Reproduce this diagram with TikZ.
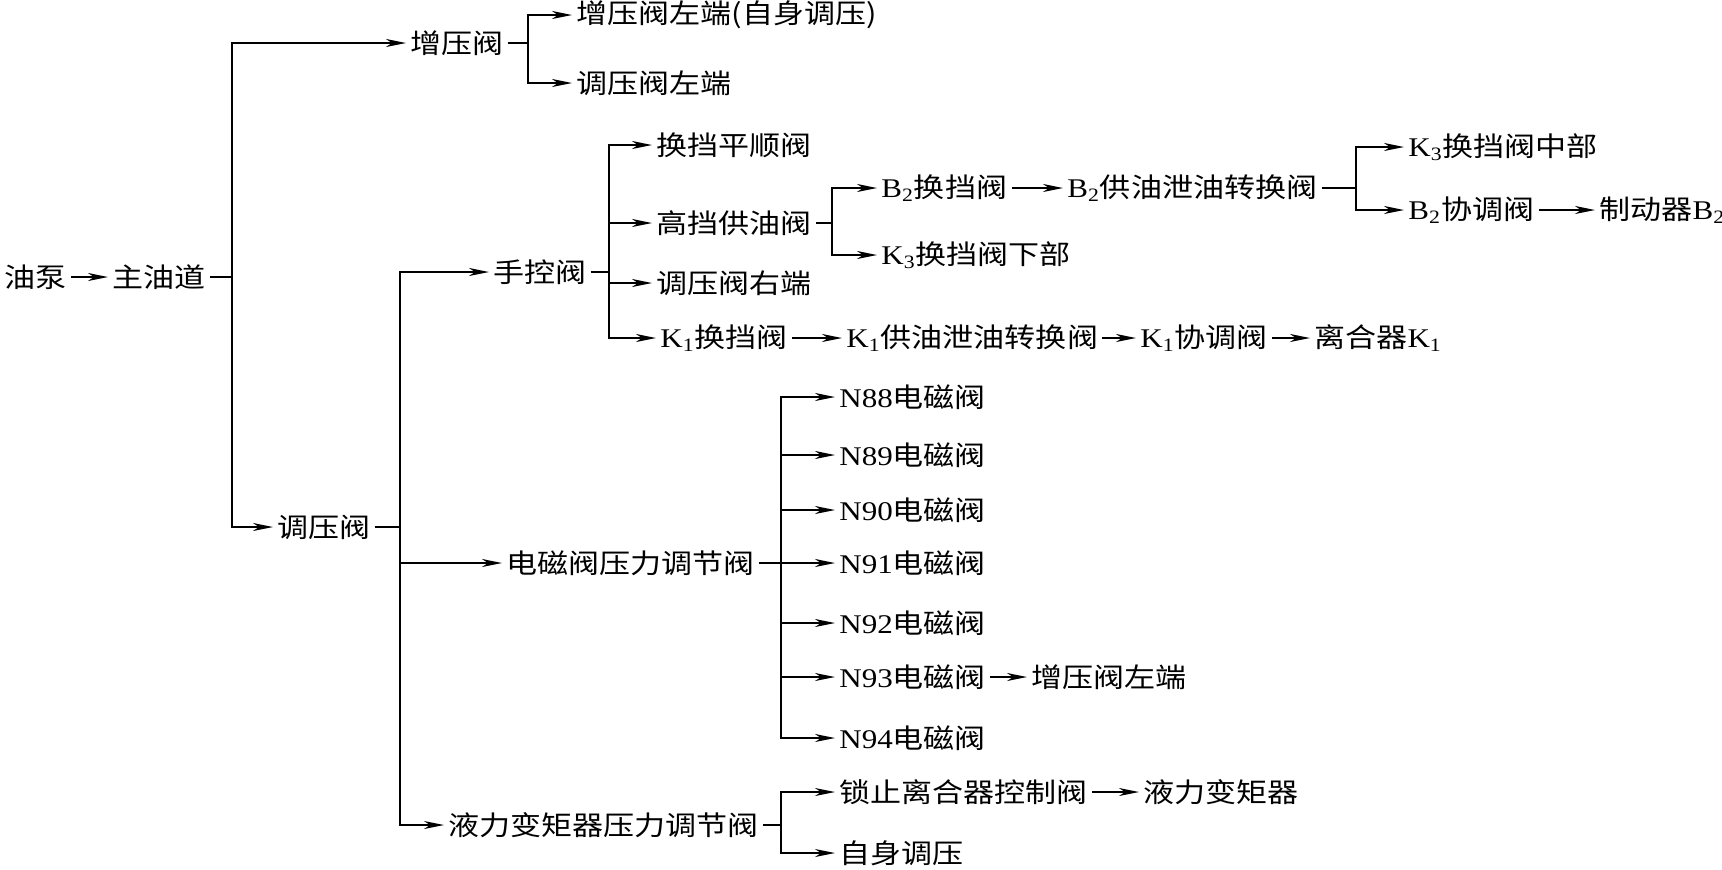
\documentclass[tikz,border=0pt]{standalone}
\usepackage{fontspec}
\setmainfont{Liberation Serif}[FakeStretch=1.15]
\newfontfamily\cjk{Noto Sans CJK SC}[FakeStretch=1.15]
\usetikzlibrary{arrows.meta}
\newcommand\lbl[2]{{\rmfamily #1\textsubscript{#2}}}

\begin{document}
\begin{tikzpicture}[
  x=0.5pt, y=-0.5pt,
  >={Stealth[length=10pt,width=4pt,inset=3pt]},
  item/.style={anchor=west,inner xsep=2pt,inner ysep=0pt,
    font=\cjk\fontsize{13.5pt}{15pt}\selectfont},
  flow/.style={->,line width=0.75pt}
]
  \useasboundingbox (0,0) rectangle (1722,869);
  % junction columns
  \coordinate (j0) at (232,0);
  \coordinate (j1) at (528,0);
  \coordinate (j2) at (400,0);
  \coordinate (j3) at (609,0);
  \coordinate (j4) at (832,0);
  \coordinate (j5) at (1356,0);
  \coordinate (j6) at (781,0);

  \node[item] (pump) at (0,277) {油泵};
  \node[item] (main) at (108,277) {主油道};
  \node[item] (boost) at (406,43) {增压阀};
  \node[item] (boostl) at (572,15) {增压阀左端(自身调压)};
  \node[item] (regl) at (572,83) {调压阀左端};
  \node[item] (reg) at (273,527) {调压阀};

  % manual valve
  \node[item] (manual) at (489,272) {手控阀};
  \node[item] (smooth) at (652,145) {换挡平顺阀};
  \node[item] (high) at (652,223) {高挡供油阀};
  \node[item] (regr) at (652,283) {调压阀右端};
  \node[item] (kashift) at (656,338) {\lbl{K}{1}换挡阀};
  \node[item] (kaswitch) at (842,338) {\lbl{K}{1}供油泄油转换阀};
  \node[item] (kacoord) at (1136,338) {\lbl{K}{1}协调阀};
  \node[item] (clutch) at (1310,338) {离合器\lbl{K}{1}};
  \node[item] (bshift) at (877,188) {\lbl{B}{2}换挡阀};
  \node[item] (bswitch) at (1063,188) {\lbl{B}{2}供油泄油转换阀};
  \node[item] (kmid) at (1404,147) {\lbl{K}{3}换挡阀中部};
  \node[item] (bcoord) at (1404,210) {\lbl{B}{2}协调阀};
  \node[item] (brake) at (1595,210) {制动器\lbl{B}{2}};
  \node[item] (klow) at (877,255) {\lbl{K}{3}换挡阀下部};

  % solenoid pressure valve
  \node[item] (sol) at (502,563) {电磁阀压力调节阀};
  \foreach \n/\y in {88/397,89/455,90/510,91/563,92/623,93/677,94/738}
    \node[item] (n\n) at (835,\y) {{\rmfamily N\n}电磁阀};
  \node[item] (boostl2) at (1027,677) {增压阀左端};

  % converter pressure valve
  \node[item] (conv) at (444,825) {液力变矩器压力调节阀};
  \node[item] (lock) at (835,792) {锁止离合器控制阀};
  \node[item] (tc) at (1139,792) {液力变矩器};
  \node[item] (self) at (835,853) {自身调压};

  \draw[flow] (pump) -- (main);
  \foreach \t in {boost,reg}
    \draw[flow] (main.east) -- (main.east -| j0) |- (\t.west);
  \foreach \t in {boostl,regl}
    \draw[flow] (boost.east) -- (boost.east -| j1) |- (\t.west);
  \foreach \t in {manual,sol,conv}
    \draw[flow] (reg.east) -- (reg.east -| j2) |- (\t.west);
  \foreach \t in {smooth,high,regr,kashift}
    \draw[flow] (manual.east) -- (manual.east -| j3) |- (\t.west);
  \draw[flow] (kashift) -- (kaswitch);
  \draw[flow] (kaswitch) -- (kacoord);
  \draw[flow] (kacoord) -- (clutch);
  \foreach \t in {bshift,klow}
    \draw[flow] (high.east) -- (high.east -| j4) |- (\t.west);
  \draw[flow] (bshift) -- (bswitch);
  \foreach \t in {kmid,bcoord}
    \draw[flow] (bswitch.east) -- (bswitch.east -| j5) |- (\t.west);
  \draw[flow] (bcoord) -- (brake);
  \foreach \n in {88,...,94}
    \draw[flow] (sol.east) -- (sol.east -| j6) |- (n\n.west);
  \draw[flow] (n93) -- (boostl2);
  \foreach \t in {lock,self}
    \draw[flow] (conv.east) -- (conv.east -| j6) |- (\t.west);
  \draw[flow] (lock) -- (tc);
\end{tikzpicture}
\end{document}
